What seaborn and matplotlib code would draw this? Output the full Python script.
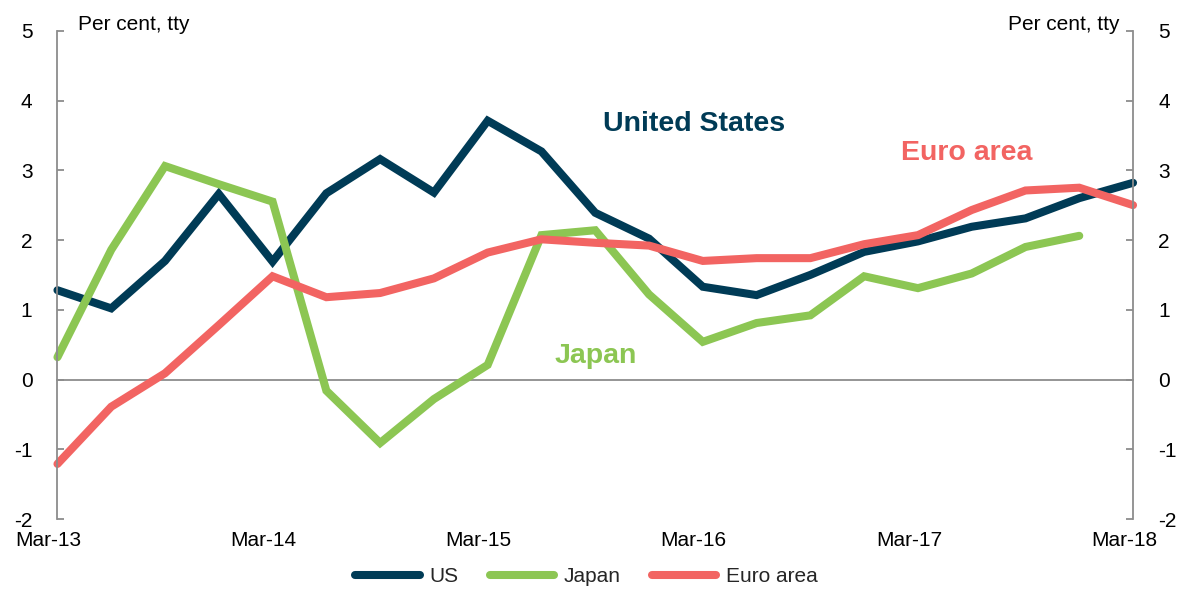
import numpy as np
import pandas as pd
import matplotlib
matplotlib.use("Agg")
import matplotlib.pyplot as plt
import seaborn as sns
from matplotlib import transforms
from matplotlib.lines import Line2D

# ---------------- data ----------------
quarters = ["Mar-13", "Jun-13", "Sep-13", "Dec-13",
            "Mar-14", "Jun-14", "Sep-14", "Dec-14",
            "Mar-15", "Jun-15", "Sep-15", "Dec-15",
            "Mar-16", "Jun-16", "Sep-16", "Dec-16",
            "Mar-17", "Jun-17", "Sep-17", "Dec-17",
            "Mar-18"]
us = [1.28, 1.02, 1.70, 2.66, 1.69, 2.67, 3.16, 2.68, 3.71, 3.27, 2.39,
      2.02, 1.33, 1.21, 1.50, 1.83, 1.98, 2.19, 2.31, 2.60, 2.82]
japan = [0.32, 1.86, 3.06, 2.80, 2.55, -0.16, -0.91, -0.28, 0.21, 2.07, 2.14,
         1.22, 0.54, 0.81, 0.92, 1.48, 1.31, 1.52, 1.90, 2.06]
euro = [-1.21, -0.39, 0.09, 0.78, 1.48, 1.18, 1.24, 1.45, 1.82, 2.01, 1.96,
        1.92, 1.70, 1.74, 1.74, 1.94, 2.07, 2.43, 2.71, 2.75, 2.50]
series_names = ["US", "Japan", "Euro area"]
label_names = ["United States", "Japan", "Euro area"]
x_tick_labels = ["Mar-13", "Mar-14", "Mar-15", "Mar-16", "Mar-17", "Mar-18"]
y_ticks = [-2, -1, 0, 1, 2, 3, 4, 5]
unit_label = "Per cent, tty"

colors = ["#003B56", "#8CC653", "#F26462"]
grey = "#8C8C8C"

# ---------------- style ----------------
sns.set_style("white")
plt.rcParams["font.family"] = ["Liberation Sans", "DejaVu Sans"]

rows = []
for name, vals in zip(series_names, [us, japan, euro]):
    for i, v in enumerate(vals):
        rows.append({"q": i, "quarter": quarters[i], "value": v, "series": name})
df = pd.DataFrame(rows)

fig = plt.figure(figsize=(11.8, 5.89), dpi=100)
ax = fig.add_axes([0.0487, 0.1188, 0.9115, 0.829])

sns.lineplot(data=df, x="q", y="value", hue="series", hue_order=series_names,
             palette=colors, linewidth=5.8, ax=ax, legend=False,
             solid_capstyle="round", solid_joinstyle="miter")
for ln in ax.lines:
    ln.set_clip_on(False)

ax.set_xlim(0, len(quarters) - 1)
ax.set_ylim(-2, 5)
ax.set_xlabel("")
ax.set_ylabel("")

# spines
ax.spines["top"].set_visible(False)
for s in ["left", "right", "bottom"]:
    ax.spines[s].set_visible(True)
    ax.spines[s].set_color(grey)
    ax.spines[s].set_linewidth(1.3)
ax.spines["bottom"].set_position(("data", 0))
ax.spines["bottom"].set_zorder(0.5)

# y ticks both sides
ax.set_yticks(y_ticks)
ax.set_yticklabels([str(v) for v in y_ticks])
ax.tick_params(axis="y", direction="in", length=5, width=1.3, color=grey,
               left=True, right=True, labelleft=True, labelright=True,
               labelsize=15, pad=18, labelcolor="#000000")

# x ticks on the zero line
tick_idx = [quarters.index(t) for t in x_tick_labels]
ax.set_xticks(tick_idx[1:-1])
ax.tick_params(axis="x", direction="inout", length=16, width=1.3, color=grey,
               labelbottom=False)

# x tick labels under the plot
trans = transforms.blended_transform_factory(ax.transData, fig.transFigure)
trans = transforms.offset_copy(trans, fig=fig, x=-9, y=0, units="dots")
for idx, lab in zip(tick_idx, x_tick_labels):
    ax.text(idx, 1 - 546 / 589, lab, transform=trans, ha="center",
            va="baseline", fontsize=15, color="#000000")

# unit labels
fig.text(78 / 1180, 1 - 29.5 / 589, unit_label, ha="left", va="baseline",
         fontsize=15, color="#000000")
fig.text(1120 / 1180, 1 - 29.5 / 589, unit_label, ha="right", va="baseline",
         fontsize=15, color="#000000")

# in-chart series labels
ann_font = ["Liberation Sans", "DejaVu Sans"]
ax.text(10.14, 3.567, label_names[0], color=colors[0], fontsize=20.5,
        fontweight="bold", ha="left", va="baseline", family=ann_font)
ax.text(9.25, 0.24, label_names[1], color=colors[1], fontsize=20.5,
        fontweight="bold", ha="left", va="baseline", family=ann_font)
ax.text(15.68, 3.147, label_names[2], color=colors[2], fontsize=20.5,
        fontweight="bold", ha="left", va="baseline", family=ann_font)

# legend
handles = [Line2D([0], [0], color=c, lw=5.8, solid_capstyle="round")
           for c in colors]
fig.legend(handles, series_names, loc="center", bbox_to_anchor=(0.497, 1 - 577 / 589),
           ncol=3, frameon=False, fontsize=15, handlelength=3.1,
           handletextpad=0.45, columnspacing=1.5)

fig.savefig("out.png", dpi=100)
